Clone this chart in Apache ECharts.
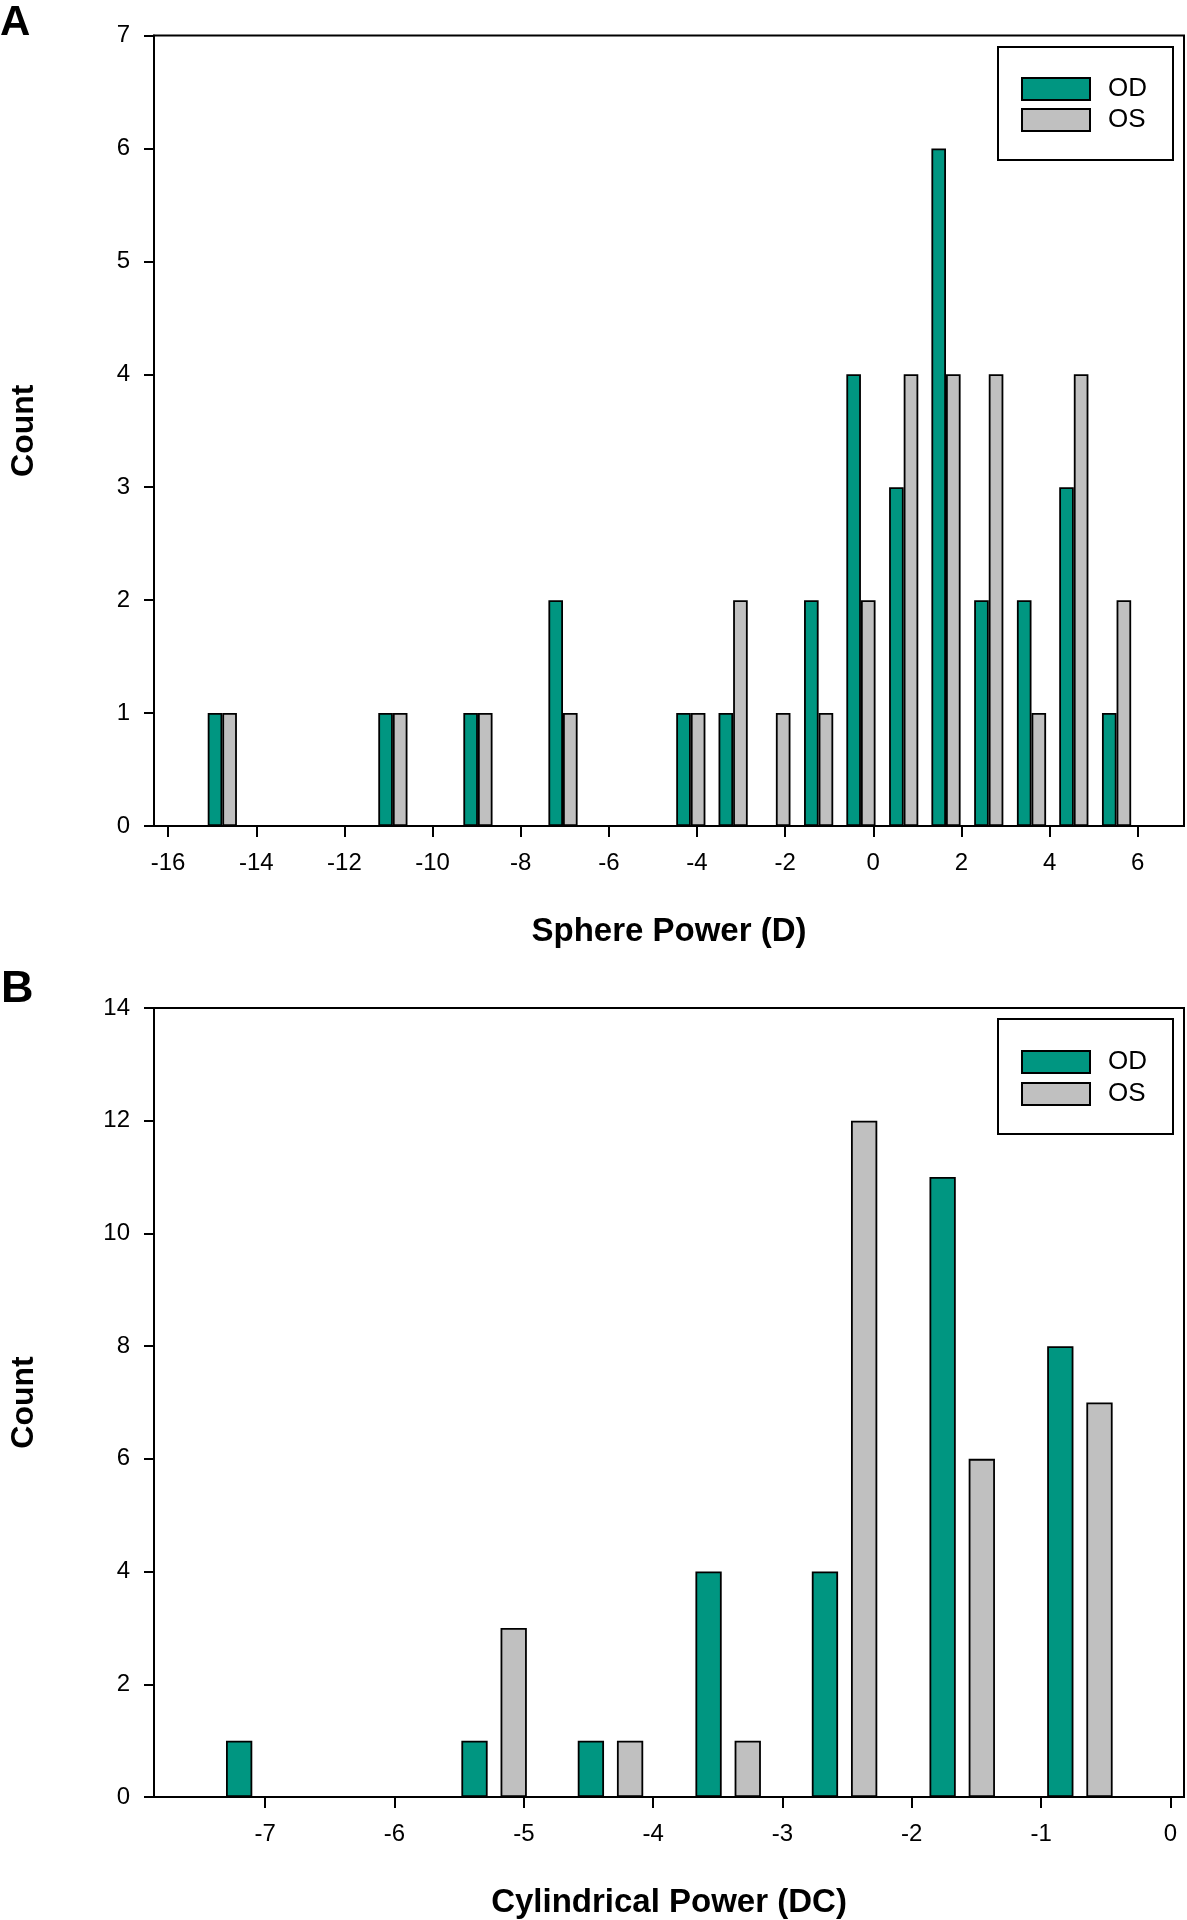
<!DOCTYPE html>
<html><head><meta charset="utf-8">
<script src="https://cdn.jsdelivr.net/npm/echarts@6/dist/echarts.min.js"></script>
<style>html,body{margin:0;padding:0;background:#fff}#c{width:1187px;height:1920px}</style>
</head><body><div id="c"></div>
<script>
// Panel A: sphere power histogram (bin centres, D)
const sphereBins = [-14.77,-13.80,-12.84,-11.87,-10.90,-9.94,-8.97,-8.01,-7.04,-6.07,-5.11,-4.14,-3.18,-2.21,-1.24,-0.28,0.69,1.65,2.62,3.59,4.55,5.52];
const sphereOD = [1,0,0,0,1,0,1,0,2,0,0,1,1,0,2,4,3,6,2,2,3,1];
const sphereOS = [1,0,0,0,1,0,1,0,1,0,0,1,2,1,1,2,4,4,4,1,4,2];
const sphereTicks = [-16,-14,-12,-10,-8,-6,-4,-2,0,2,4,6];
// Panel B: cylindrical power histogram (bin centres, DC)
const cylBins = [-7.05,-6.14,-5.23,-4.33,-3.42,-2.52,-1.61,-0.70];
const cylOD = [1,0,1,1,4,4,11,8];
const cylOS = [0,0,3,1,1,12,6,7];
const cylTicks = [-7,-6,-5,-4,-3,-2,-1,0];

const TEAL = '#009681', GRAY = '#C0C0C0';
const FONT = '"Liberation Sans", Arial, sans-serif';
const chart = echarts.init(document.getElementById('c'), null, {renderer:'canvas'});

function xAxisCfg(gi, min, max, ticks, name){
  return {type:'value', gridIndex:gi, min:min, max:max, name:name, nameLocation:'middle', nameGap:89,
    nameTextStyle:{fontFamily:FONT, fontSize:33, fontWeight:'bold', color:'#000'},
    axisLine:{show:true, onZero:false, lineStyle:{color:'#000', width:2}},
    axisTick:{show:true, length:11, customValues:ticks, lineStyle:{color:'#000', width:2}},
    axisLabel:{show:true, margin:25, customValues:ticks, fontFamily:FONT, fontSize:24, color:'#000'},
    splitLine:{show:false}};
}
function yAxisCfg(gi, max, interval){
  return {type:'value', gridIndex:gi, min:0, max:max, interval:interval, name:'Count', nameLocation:'middle', nameGap:114,
    nameTextStyle:{fontFamily:FONT, fontSize:32, fontWeight:'bold', color:'#000'},
    axisLine:{show:true, onZero:false, lineStyle:{color:'#000', width:2}},
    axisTick:{show:true, length:10, lineStyle:{color:'#000', width:2}},
    axisLabel:{show:true, margin:24, fontFamily:FONT, fontSize:24, color:'#000'},
    splitLine:{show:false}};
}
function barSeries(name, gi, bins, vals, color, w, gap){
  return {type:'bar', name:name, xAxisIndex:gi, yAxisIndex:gi, silent:true,
    data: bins.map((x,i)=>[x, vals[i]]), barWidth:w, barGap:gap,
    itemStyle:{color:color, borderColor:'#000', borderWidth:1.8}};
}
function legendCfg(top, padTop, gap){
  return {show:true, orient:'vertical', left:998, top:top, padding:[padTop,26,27,23],
    itemWidth:68, itemHeight:22, itemGap:gap, icon:'rect', selectedMode:false,
    borderColor:'#000', borderWidth:2, backgroundColor:'#fff',
    textStyle:{fontFamily:FONT, fontSize:26, color:'#000', lineHeight:22, padding:[0,0,0,13]},
    data:['OD','OS']};
}

chart.setOption({
  animation:false,
  backgroundColor:'#fff',
  grid:[
    {left:154, top:35.5, width:1030, height:790.5, show:true, borderColor:'#000', borderWidth:2, containLabel:false},
    {left:154, top:1008, width:1030, height:789.5, show:true, borderColor:'#000', borderWidth:2, containLabel:false}
  ],
  xAxis:[
    xAxisCfg(0, -16.32, 7.05, sphereTicks, 'Sphere Power (D)'),
    xAxisCfg(1, -7.86, 0.105, cylTicks, 'Cylindrical Power (DC)')
  ],
  yAxis:[ yAxisCfg(0, 7, 1), yAxisCfg(1, 14, 2) ],
  legend:[ legendCfg(47, 29, 5), legendCfg(1019, 30, 6) ],
  graphic:[
    {type:'text', left:0, top:2, style:{text:'A', font:'bold 42px '+FONT, fill:'#000'}},
    {type:'text', left:1, top:967, style:{text:'B', font:'bold 45px '+FONT, fill:'#000'}}
  ],
  series:[
    barSeries('OD', 0, sphereBins, sphereOD, TEAL, 14.6, '0%'),
    barSeries('OS', 0, sphereBins, sphereOS, GRAY, 14.6, '0%'),
    barSeries('OD', 1, cylBins, cylOD, TEAL, 26.3, '49%'),
    barSeries('OS', 1, cylBins, cylOS, GRAY, 26.3, '49%')
  ]
});
</script></body></html>
